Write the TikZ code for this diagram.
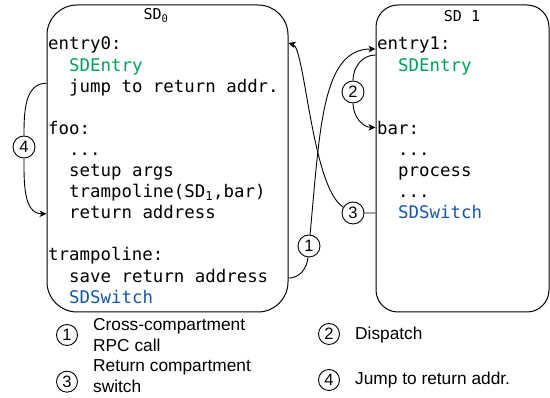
\documentclass[tikz,border=0pt]{standalone}
\usepackage{fontspec}
\setmonofont{DejaVu Sans Mono}
\setsansfont{Liberation Sans}
\usetikzlibrary{calc}
\usetikzlibrary{positioning}
\usetikzlibrary{arrows.meta}
\definecolor{entrygreen}{RGB}{0,160,90}
\definecolor{switchblue}{RGB}{20,85,170}

\tikzset{
  codeline/.style={anchor=base west, inner sep=0pt, font=\fontsize{17.4}{21}\ttfamily},
  sdtitle/.style={anchor=base, inner sep=0pt, font=\fontsize{15}{18}\ttfamily},
  sdbox/.style={draw, line width=1pt, rounded corners=#1, inner sep=0pt},
  stepmark/.style={draw, circle, line width=0.9pt, minimum size=22pt, inner sep=0pt,
    font=\fontsize{16.5}{16.5}\sffamily},
  legendmark/.style={stepmark, minimum size=21pt},
  legendtext/.style={anchor=base west, inner sep=0pt, align=left,
    font=\fontsize{17.3}{21}\sffamily},
  flow/.style={line width=0.9pt, -{Stealth[length=7pt, width=6.5pt, inset=2pt]}}
}

\begin{document}
\begin{tikzpicture}[x=1pt, y=1pt]
      \useasboundingbox (0,0) rectangle (550,398);

      % the two compartments
      \node[sdbox=30pt, minimum width=241pt, minimum height=307pt] (sd0) at (167.5,239.5) {};
      \node[sdbox=22pt, minimum width=173pt, minimum height=307pt] (sd1) at (462.5,239.5) {};
      \node[sdtitle] (title0) at (156,378) {SD\textsubscript{0}};
      \node[sdtitle] (title1) at (462,376.5) {SD 1};

      \node[codeline] (entry0) at (48,348) {entry0:};
      \node[codeline, text=entrygreen] (sdentry0) at (69,326.9) {SDEntry};
      \node[codeline] (jump) at (69,305.8) {jump to return addr.};
      \node[codeline] (foo) at (48,263.6) {foo:};
      \node[codeline] (dots0) at (69,242.5) {...};
      \node[codeline] (setup) at (69,221.4) {setup args};
      \node[codeline] (tcall) at (69,200.3) {trampoline(SD\textsubscript{1},bar)};
      \node[codeline] (retaddr) at (69,179.2) {return address};
      \node[codeline] (tramp) at (48,137) {trampoline:};
      \node[codeline] (save) at (69,115.9) {save return address};
      \node[codeline, text=switchblue] (sdswitch0) at (69,94.8) {SDSwitch};

      \node[codeline] (entry1) at (377,348) {entry1:};
      \node[codeline, text=entrygreen] (sdentry1) at (398,326.9) {SDEntry};
      \node[codeline] (bar) at (377,263.6) {bar:};
      \node[codeline] (dots1) at (398,242.5) {...};
      \node[codeline] (process) at (398,221.4) {process};
      \node[codeline] (dots2) at (398,200.3) {...};
      \node[codeline, text=switchblue] (sdswitch1) at (398,179.2) {SDSwitch};

      % steps
      \node[stepmark] (s1) at (309,152) {1};
      \node[stepmark] (s2) at (353,306) {2};
      \node[stepmark] (s3) at (353,185) {3};
      \node[stepmark] (s4) at (24,251) {4};

      \coordinate (out1) at ($(sd0.east |- save.base)+(0,4)$);
      \coordinate (in1) at ($(sd1.west |- entry1.base)+(0,1)$);
      \coordinate (out2) at ($(sd1.west |- entry1.base)+(0,-5)$);
      \coordinate (in2) at ($(sd1.west |- bar.base)+(0,7)$);
      \coordinate (in3) at ($(sd0.east |- entry0.base)+(0,7)$);
      \coordinate (out4) at ($(sd0.west |- jump.base)+(0,9)$);
      \coordinate (in4) at ($(sd0.west |- retaddr.base)+(0,5)$);

      \draw[flow] (out1) to[out=0, in=265] (s1) .. controls (320,270) and (322,349) .. (in1);
      \draw[flow] (out2) to[out=180, in=90] (s2) to[out=-90, in=180] (in2);
      \draw[flow] (sd1.west |- s3) -- (s3) .. controls (312,210) and (305,350) .. (in3);
      \draw[flow] (out4) to[out=180, in=90] (s4) to[out=-90, in=180] (in4);

      % legend
      \node[legendmark] (key1) at (67,63) {1};
      \node[legendtext] (key1text) at (93,46.3) {Cross-compartment\\RPC call};
      \node[legendmark] (key3) at (67,16.3) {3};
      \node[legendtext] (key3text) at (93,5.3) {Return compartment\\switch};
      \node[legendmark] (key2) at (329,64) {2};
      \node[legendtext] (key2text) at (355,58.7) {Dispatch};
      \node[legendmark] (key4) at (329,18) {4};
      \node[legendtext] (key4text) at (355,13) {Jump to return addr.};
\end{tikzpicture}
\end{document}
